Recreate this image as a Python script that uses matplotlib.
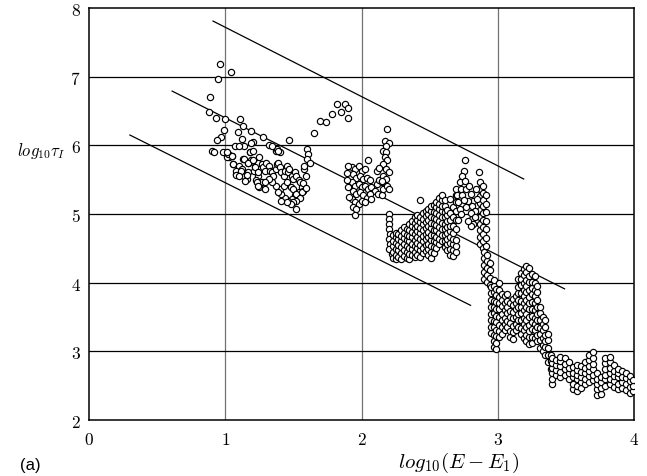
import numpy as np
import matplotlib
matplotlib.use("Agg")
import matplotlib.pyplot as plt

plt.rcParams['mathtext.fontset'] = 'cm'

# lineas de referencia (pendiente -1)
line_x0 = [0.91, 0.61, 0.30]
line_y0 = [7.81, 6.79, 6.15]
line_x1 = [3.19, 3.49, 2.80]
line_y1 = [5.51, 3.91, 3.67]

# puntos sueltos, x < 2.25
sparse_x = [0.96, 1.04, 0.95, 0.89, 0.88, 0.93, 1.00, 1.11, 0.99, 1.09, 1.13, 1.19, 1.28, 1.12, 1.20,
            0.97, 0.94, 1.47, 1.07, 1.32, 1.37, 1.40, 0.90, 0.92, 0.98, 1.02, 1.05, 1.03, 1.01, 1.06,
            1.02, 1.05, 1.06, 1.10, 1.08, 1.14, 1.16, 1.13, 1.17, 1.18, 1.19, 1.22, 1.23, 1.24, 1.25,
            1.27, 1.28, 1.29, 1.30, 1.32, 1.33, 1.34, 1.35, 1.37, 1.38, 1.39, 1.40, 1.41, 1.43, 1.44,
            1.45, 1.46, 1.47, 1.49, 1.50, 1.51, 1.52, 1.54, 1.55, 1.56, 1.57, 1.54, 1.51, 1.49, 1.46,
            1.44, 1.41, 1.40, 1.43, 1.45, 1.48, 1.50, 1.52, 1.55, 1.56, 1.52, 1.50, 1.48, 1.52, 1.45,
            1.41, 1.39, 1.37, 1.34, 1.32, 1.23, 1.25, 1.29, 1.17, 1.10, 1.12, 1.21, 1.24, 1.27, 1.60,
            1.61, 1.60, 1.62, 1.01, 1.38, 1.39, 1.34, 1.19, 1.14, 1.10,
            1.08, 1.115, 1.076, 1.10, 1.14, 1.17, 1.205, 1.18, 1.205, 1.157, 1.22, 1.24, 1.225, 1.25,
            1.145, 1.23, 1.29, 1.24, 1.58, 1.59, 1.57, 1.59, 1.58,
            1.65, 1.695, 1.74, 1.785, 1.82, 1.85, 1.88, 1.90, 1.90,
            1.93, 1.95, 1.98, 2.00, 2.025, 1.94, 1.96, 1.99, 2.01, 2.04, 2.06, 1.93, 1.95, 1.98, 2.00,
            2.025, 2.05, 2.07, 2.10, 2.12, 2.15, 1.94, 1.96, 1.99, 2.01, 2.04, 2.06, 1.93, 1.95, 1.98,
            2.00, 2.025, 1.94, 1.96, 1.95, 2.07, 2.11, 2.13, 2.16, 1.89, 1.90, 1.91, 1.89, 1.90,
            2.19, 2.17, 2.20, 2.18, 2.16, 2.18, 2.17, 2.19, 2.16, 2.18, 2.20, 2.16, 2.18, 2.15, 2.19,
            2.20, 2.05, 2.11, 2.13, 2.15,
            2.20, 2.20, 2.20, 2.20, 2.21, 2.20, 2.21, 2.20, 2.22]
sparse_y = [7.18, 7.07, 6.97, 6.70, 6.48, 6.40, 6.38, 6.38, 6.23, 6.19, 6.28, 6.21, 6.12, 6.09, 6.05,
            6.12, 6.08, 6.08, 5.99, 6.00, 5.92, 5.91, 5.92, 5.90, 5.90, 5.87, 5.85, 5.83, 5.83, 5.73,
            5.87, 5.85, 5.73, 5.63, 5.58, 5.56, 5.51, 5.80, 5.75, 5.90, 5.78, 5.70, 5.61, 5.75, 5.83,
            5.73, 5.68, 5.63, 5.75, 5.70, 5.63, 5.61, 5.56, 5.66, 5.73, 5.75, 5.68, 5.61, 5.56, 5.63,
            5.70, 5.61, 5.66, 5.56, 5.51, 5.61, 5.56, 5.49, 5.46, 5.39, 5.34, 5.32, 5.27, 5.22, 5.19,
            5.24, 5.29, 5.36, 5.41, 5.46, 5.39, 5.36, 5.29, 5.24, 5.32, 5.19, 5.17, 5.15, 5.07, 5.17,
            5.19, 5.32, 5.41, 5.46, 5.51, 5.46, 5.41, 5.36, 5.61, 5.70, 5.66, 5.63, 5.56, 5.46, 5.95,
            5.87, 5.80, 5.75, 5.90, 5.95, 5.92, 5.99, 6.04, 5.99, 5.99,
            5.63, 5.63, 5.57, 5.55, 5.80, 5.75, 5.78, 5.90, 5.92, 5.57, 5.68, 5.61, 5.49, 5.40,
            5.48, 5.47, 5.47, 5.41, 5.65, 5.55, 5.45, 5.38, 5.70,
            6.18, 6.36, 6.34, 6.45, 6.60, 6.48, 6.60, 6.55, 6.40,
            5.68, 5.66, 5.70, 5.63, 5.66, 5.58, 5.53, 5.56, 5.51, 5.53, 5.49, 5.46, 5.41, 5.44, 5.39,
            5.41, 5.36, 5.39, 5.34, 5.29, 5.27, 5.34, 5.29, 5.32, 5.27, 5.24, 5.29, 5.22, 5.17, 5.15,
            5.19, 5.17, 5.10, 5.07, 4.98, 5.22, 5.44, 5.49, 5.36, 5.60, 5.40, 5.25, 5.50, 5.70,
            6.24, 6.07, 6.04, 5.99, 5.92, 5.90, 5.83, 5.78, 5.73, 5.66, 5.61, 5.56, 5.51, 5.46, 5.41,
            5.36, 5.78, 5.63, 5.67, 5.48,
            5.00, 4.93, 4.86, 4.78, 4.71, 4.64, 4.56, 4.49, 4.42]

# bloque 2.2 - 2.7 (columnas)
c4_x = [2.23, 2.25, 2.27, 2.29, 2.31, 2.33, 2.35, 2.37, 2.39, 2.41, 2.43, 2.45,
        2.47, 2.49, 2.51, 2.53, 2.55, 2.57, 2.59, 2.61, 2.63, 2.65, 2.67, 2.69]
c4_y = [[4.36, 4.44, 4.53, 4.61, 4.70],
        [4.34, 4.41, 4.49, 4.58, 4.66, 4.73],
        [4.38, 4.47, 4.55, 4.63, 4.71],
        [4.35, 4.43, 4.52, 4.60, 4.68, 4.77],
        [4.39, 4.48, 4.57, 4.65, 4.73, 4.81],
        [4.36, 4.45, 4.53, 4.62, 4.70, 4.78],
        [4.34, 4.42, 4.51, 4.60, 4.68, 4.76, 4.85],
        [4.40, 4.49, 4.57, 4.66, 4.74, 4.82, 4.90],
        [4.37, 4.45, 4.54, 4.62, 4.71, 4.79, 4.87, 4.95],
        [4.41, 4.50, 4.58, 4.67, 4.75, 4.83, 4.92, 4.99],
        [4.38, 4.47, 4.55, 4.64, 4.72, 4.80, 4.89, 4.96, 5.21],
        [4.43, 4.51, 4.60, 4.68, 4.77, 4.85, 4.93, 5.01],
        [4.46, 4.55, 4.63, 4.71, 4.80, 4.88, 4.97, 5.04],
        [4.40, 4.49, 4.57, 4.66, 4.74, 4.83, 4.91, 5.00, 5.07],
        [4.36, 4.45, 4.53, 4.62, 4.70, 4.79, 4.87, 4.96, 5.04, 5.11],
        [4.43, 4.52, 4.60, 4.69, 4.77, 4.86, 4.94, 5.03, 5.13],
        [4.50, 4.59, 4.67, 4.76, 4.84, 4.93, 5.01, 5.10, 5.17],
        [4.56, 4.64, 4.73, 4.81, 4.90, 4.98, 5.07, 5.15, 5.24],
        [4.61, 4.70, 4.78, 4.87, 4.95, 5.04, 5.12, 5.21, 5.27],
        [4.52, 4.61, 4.69, 4.78, 4.86, 4.95, 5.03, 5.12, 5.20],
        [4.47, 4.56, 4.64, 4.73, 4.81, 4.90, 4.98, 5.06],
        [4.41, 4.49, 4.58, 4.66, 4.75, 4.83, 4.92, 5.01, 5.22],
        [4.39, 4.47, 4.56, 4.64, 4.73, 4.82, 4.95, 5.10],
        [4.44, 4.53, 4.62, 4.78, 4.92, 5.05, 5.18, 5.28, 5.37]]

# torre 2.7 - 2.86
tower_x = [2.76, 2.75, 2.72, 2.73, 2.77, 2.80, 2.82, 2.81, 2.78, 2.83, 2.81, 2.82, 2.71, 2.70, 2.72,
           2.86, 2.74, 2.76, 2.74, 2.75, 2.77, 2.79, 2.84, 2.85, 2.80, 2.83, 2.80, 2.78, 2.73, 2.71]
tower_y = [5.78, 5.63, 5.46, 5.37, 5.37, 5.29, 5.19, 5.12, 5.19, 5.05, 4.93, 4.86, 5.17, 5.27, 5.07,
           5.61, 5.55, 5.48, 5.28, 5.20, 5.10, 5.41, 5.36, 5.22, 5.02, 4.95, 4.83, 4.90, 5.00, 4.92]

# bajada y bloque 2.87 - 3.40 (columnas)
c6_x = [2.87, 2.89, 2.91, 2.90, 2.92, 2.94, 2.95, 2.97, 2.99, 3.01, 3.03, 3.05, 3.07, 3.09,
        3.11, 3.13, 3.15, 3.17, 3.19, 3.21, 3.23, 3.25, 3.27, 3.29, 3.31, 3.33, 3.35, 3.37, 3.39]
c6_y = [[4.56, 4.66, 4.76, 4.86, 4.96, 5.06, 5.16, 5.26, 5.36, 5.46],
        [4.50, 4.61, 4.71, 4.81, 4.91, 5.01, 5.11, 5.21, 5.31, 5.41],
        [4.53, 4.65, 4.78, 4.90, 5.03, 5.15, 5.28],
        [4.06, 4.16, 4.26, 4.36, 4.45],
        [4.01, 4.11, 4.21, 4.31, 4.41],
        [3.96, 4.07, 4.18, 4.28],
        [3.26, 3.35, 3.46, 3.55, 3.64, 3.75, 3.85, 3.94],
        [3.06, 3.15, 3.24, 3.35, 3.44, 3.56, 3.65, 3.74, 3.86, 3.95, 4.04],
        [3.03, 3.12, 3.22, 3.31, 3.42, 3.52, 3.61, 3.72, 3.82, 3.91],
        [3.21, 3.30, 3.39, 3.50, 3.61, 3.70, 3.79, 3.90, 4.00],
        [3.25, 3.36, 3.45, 3.54, 3.66, 3.75, 3.84],
        [3.31, 3.40, 3.49, 3.60, 3.71, 3.80],
        [3.35, 3.44, 3.56, 3.65, 3.74, 3.83],
        [3.21, 3.30, 3.41, 3.50, 3.59, 3.70],
        [3.18, 3.28, 3.37, 3.48, 3.58, 3.67, 3.76],
        [3.31, 3.40, 3.50, 3.61, 3.70, 3.80],
        [3.35, 3.46, 3.55, 3.64, 3.75, 3.85, 3.94, 4.05],
        [3.25, 3.34, 3.45, 3.56, 3.65, 3.74, 3.85, 3.96, 4.05, 4.14],
        [3.20, 3.31, 3.40, 3.49, 3.60, 3.71, 3.80, 3.89, 4.00, 4.11, 4.20],
        [3.15, 3.24, 3.35, 3.46, 3.55, 3.64, 3.75, 3.86, 3.95, 4.04, 4.15, 4.24],
        [3.10, 3.21, 3.30, 3.39, 3.50, 3.61, 3.70, 3.79, 3.90, 4.01, 4.10, 4.22],
        [3.12, 3.21, 3.32, 3.43, 3.52, 3.61, 3.72, 3.83, 3.92, 4.01, 4.12],
        [3.20, 3.31, 3.40, 3.49, 3.60, 3.71, 3.80, 3.89, 4.00, 4.10],
        [3.15, 3.24, 3.35, 3.46, 3.55, 3.64, 3.75, 3.86, 3.95],
        [3.05, 3.16, 3.25, 3.34, 3.45, 3.56, 3.65],
        [3.00, 3.09, 3.20, 3.31, 3.40, 3.50],
        [2.95, 3.06, 3.15, 3.24, 3.35, 3.45],
        [2.85, 2.94, 3.05, 3.16, 3.25],
        [2.75, 2.86, 2.95]]

# cola 3.4 - 4.0 (columnas)
c7_x = [3.40, 3.43, 3.46, 3.49, 3.52, 3.55, 3.58, 3.61, 3.64, 3.67, 3.70,
        3.73, 3.76, 3.79, 3.82, 3.85, 3.88, 3.91, 3.94, 3.97, 3.99]
c7_y = [[2.52, 2.59, 2.68, 2.76, 2.83, 2.90],
        [2.65, 2.73, 2.80, 2.88],
        [2.62, 2.70, 2.79, 2.86, 2.92],
        [2.66, 2.74, 2.81, 2.90],
        [2.60, 2.69, 2.76, 2.84],
        [2.45, 2.53, 2.62, 2.69, 2.77],
        [2.42, 2.50, 2.59, 2.66, 2.73, 2.80],
        [2.46, 2.55, 2.62, 2.70, 2.79],
        [2.52, 2.60, 2.69, 2.76, 2.84],
        [2.55, 2.64, 2.71, 2.79, 2.88, 2.95],
        [2.58, 2.66, 2.75, 2.82, 2.90, 2.99],
        [2.36, 2.45, 2.52, 2.60, 2.68],
        [2.38, 2.46, 2.55, 2.62],
        [2.50, 2.59, 2.66, 2.74, 2.83, 2.90],
        [2.52, 2.60, 2.69, 2.76, 2.84, 2.92],
        [2.48, 2.57, 2.64, 2.72, 2.80],
        [2.45, 2.53, 2.62, 2.69, 2.75],
        [2.47, 2.56, 2.63, 2.71],
        [2.44, 2.52, 2.61, 2.68],
        [2.40, 2.48, 2.57, 2.64],
        [2.42, 2.50, 2.58]]


def columnas(cx, cy):
    xs, ys = [], []
    for x, col in zip(cx, cy):
        for y in col:
            xs.append(x)
            ys.append(y)
    return xs, ys


fig = plt.figure(figsize=(6.47, 4.77), dpi=100)
ax = fig.add_axes([0.1376, 0.1174, 0.8424, 0.8637])

for xg in [1, 2, 3]:
    ax.axvline(xg, color='0.45', lw=0.9, zorder=1)
for yg in [3, 4, 5, 6, 7]:
    ax.axhline(yg, color='black', lw=0.9, zorder=1)

for i in range(3):
    ax.plot([line_x0[i], line_x1[i]], [line_y0[i], line_y1[i]], color='black', lw=0.9, zorder=2)

estilo = dict(ls='none', marker='o', ms=4.5, mfc='white', mec='black', mew=0.85, zorder=3)
ax.plot(sparse_x, sparse_y, **estilo)
for cx, cy in [(c4_x, c4_y), (c6_x[:3], c6_y[:3])]:
    xs, ys = columnas(cx, cy)
    ax.plot(xs, ys, **estilo)
ax.plot(tower_x, tower_y, **estilo)
for cx, cy in [(c6_x[3:], c6_y[3:]), (c7_x, c7_y)]:
    xs, ys = columnas(cx, cy)
    ax.plot(xs, ys, **estilo)

ax.set_xlim(0, 4)
ax.set_ylim(2, 8)
ax.set_xticks([0, 1, 2, 3, 4])
ax.set_xticklabels(['$0$', '$1$', '$2$', '$3$', '$4$'])
ax.set_yticks([2, 3, 4, 5, 6, 7, 8])
ax.set_yticklabels(['$2$', '$3$', '$4$', '$5$', '$6$', '$7$', '$8$'])
ax.tick_params(length=0, labelsize=12.5)
ax.tick_params(axis='x', pad=7)
ax.tick_params(axis='y', pad=6)
for s in ax.spines.values():
    s.set_linewidth(1.1)

fig.text(0.026, 0.684, r'$log_{10}\tau_I$', fontsize=12, va='center', ha='left')
fig.text(0.709, 0.018, r'$log_{10}(E-E_1)$', fontsize=15, va='baseline', ha='center')
fig.text(0.031, 0.025, '(a)', fontsize=12, va='center', ha='left', family='Liberation Sans')

plt.savefig('out.png', dpi=100)
